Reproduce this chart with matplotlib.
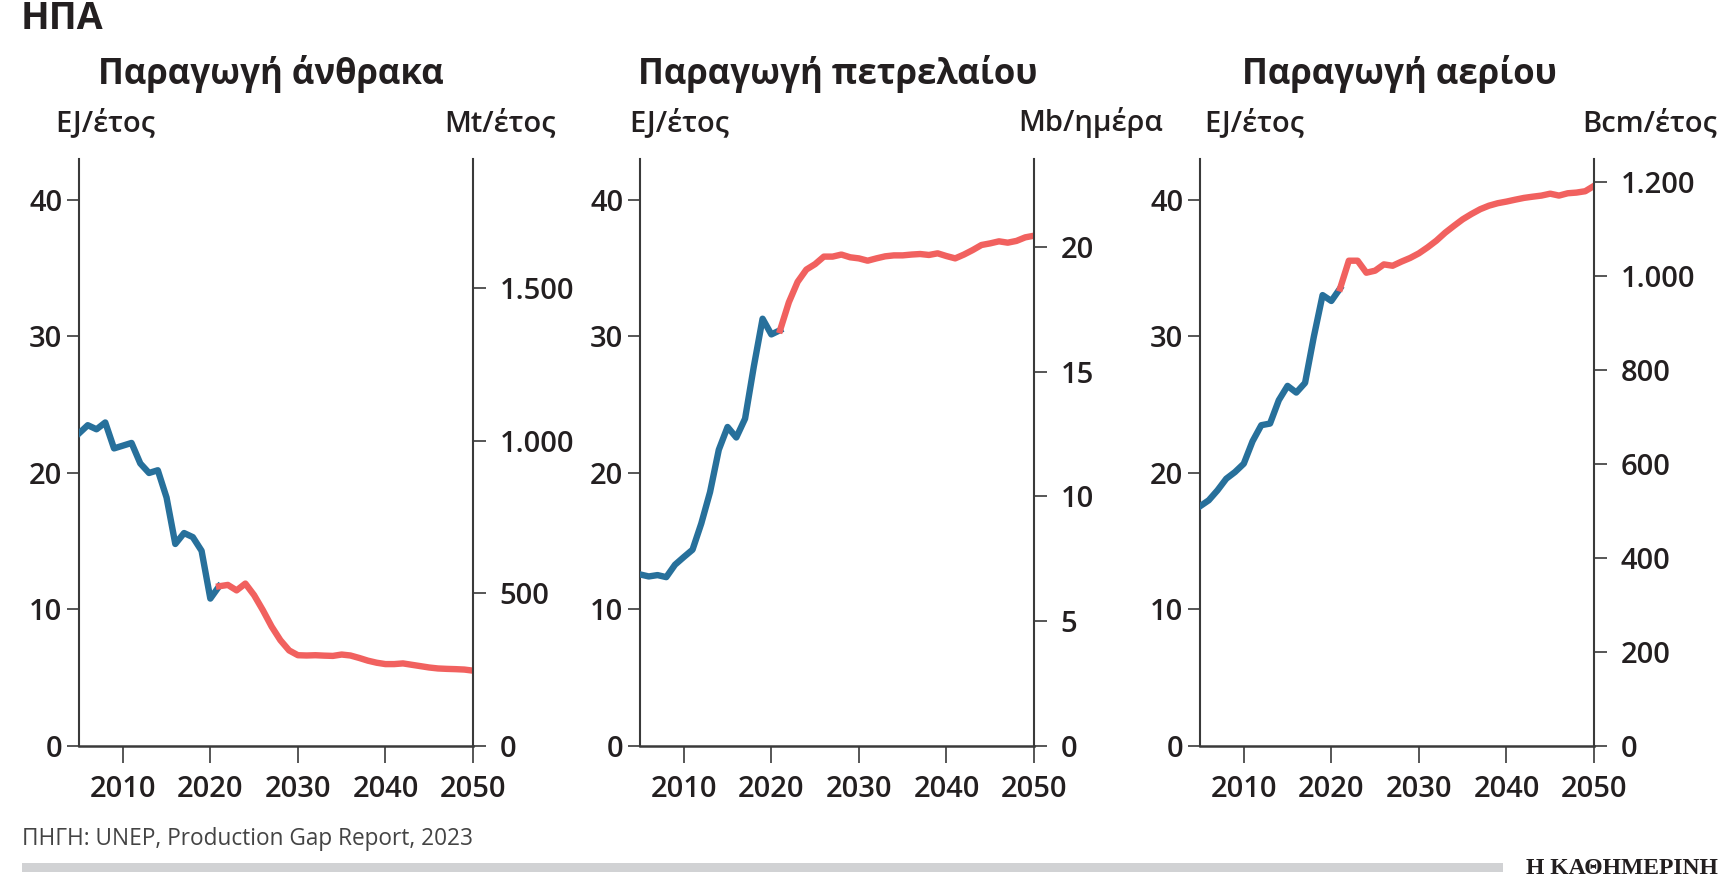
import matplotlib.pyplot as plt
from matplotlib.ticker import FuncFormatter

W, H = 1720, 888

years_hist = list(range(2005, 2022))
years_proj = list(range(2021, 2051))

coal_hist = [22.9, 23.5, 23.2, 23.7, 21.8, 22.0, 22.2, 20.7, 20.0, 20.2, 18.2,
             14.8, 15.6, 15.3, 14.3, 10.8, 11.7]
coal_proj = [11.7, 11.8, 11.4, 11.9, 11.05, 9.95, 8.75, 7.75, 7.0, 6.65,
             6.63, 6.65, 6.62, 6.6, 6.7, 6.63, 6.45, 6.25, 6.1, 6.0,
             6.0, 6.05, 5.95, 5.85, 5.75, 5.68, 5.65, 5.63, 5.6, 5.52]

oil_hist = [12.57, 12.42, 12.52, 12.37, 13.28, 13.84, 14.38, 16.3, 18.6, 21.7,
            23.37, 22.6, 23.98, 27.8, 31.3, 30.15, 30.46]
oil_proj = [30.46, 32.5, 34.0, 34.9, 35.3, 35.85, 35.85, 36.0, 35.8, 35.72,
            35.55, 35.72, 35.87, 35.94, 35.94, 36.0, 36.04, 35.97, 36.09, 35.89,
            35.72, 36.0, 36.33, 36.7, 36.82, 36.97, 36.87, 37.0, 37.26, 37.38]

gas_hist = [17.56, 18.0, 18.73, 19.58, 20.07, 20.68, 22.32, 23.5, 23.62, 25.33,
            26.38, 25.89, 26.6, 29.98, 33.03, 32.6, 33.52]
gas_proj = [33.52, 35.55, 35.55, 34.67, 34.82, 35.28, 35.18, 35.48, 35.75, 36.09,
            36.53, 37.02, 37.6, 38.1, 38.58, 38.97, 39.32, 39.58, 39.76, 39.88,
            40.02, 40.15, 40.24, 40.32, 40.46, 40.32, 40.49, 40.54, 40.64, 41.03]

titles = ["Παραγωγή άνθρακα", "Παραγωγή πετρελαίου", "Παραγωγή αερίου"]
left_units = ["EJ/έτος", "EJ/έτος", "EJ/έτος"]
right_units = ["Mt/έτος", "Mb/ημέρα", "Bcm/έτος"]
left_ticks = [0, 10, 20, 30, 40]
right_ticks = [[0, 500, 1000, 1500], [0, 5, 10, 15, 20], [0, 200, 400, 600, 800, 1000, 1200]]
# μονάδες δεξιού άξονα ανά 1 EJ
right_factor = [44.7, 0.5468, 29.06]
year_ticks = [2010, 2020, 2030, 2040, 2050]

BLUE = "#27709b"
RED = "#f1615f"
TXT = "#231f20"
AX = "#3a3a3a"

plt.rcParams['font.family'] = ['Open Sans', 'DejaVu Sans']

fig = plt.figure(figsize=(W / 100, H / 100), dpi=100)


def fx(x):
    return x / W


def fy(y):
    return 1 - y / H


def fmt(v, _):
    return f"{int(round(v)):,}".replace(",", ".")


panels_px = [(79, 473), (640, 1034), (1200, 1594)]
title_x = [98, 638, 1242]
left_unit_x = [55, 629, 1204]
right_unit_x = [556, 1163, 1717]
series = [(coal_hist, coal_proj), (oil_hist, oil_proj), (gas_hist, gas_proj)]
y_top, y_bot = 159, 746
ymax = 43.0

for i in range(3):
    x0, x1 = panels_px[i]
    ax = fig.add_axes([fx(x0), fy(y_bot), (x1 - x0) / W, (y_bot - y_top) / H])
    hist, proj = series[i]
    ax.plot(years_hist, hist, color=BLUE, lw=4.6, solid_joinstyle='round', zorder=3)
    ax.plot(years_proj, proj, color=RED, lw=4.6, solid_joinstyle='round', zorder=3)
    ax.set_xlim(2005, 2050)
    ax.set_ylim(0, ymax)
    ax.set_xticks(year_ticks)
    ax.set_yticks(left_ticks)
    ax.spines['top'].set_visible(False)
    ax.spines['right'].set_visible(False)
    ax.spines['left'].set_color(AX)
    ax.spines['left'].set_linewidth(1.5)
    ax.spines['bottom'].set_color(AX)
    ax.spines['bottom'].set_linewidth(1.8)
    ax.tick_params(axis='y', length=9, width=1.2, color=AX, pad=3,
                   labelsize=21, labelcolor=TXT)
    ax.tick_params(axis='x', length=12, width=1.2, color=AX, pad=9,
                   labelsize=21, labelcolor=TXT)
    for lab in ax.get_xticklabels() + ax.get_yticklabels():
        lab.set_fontweight('semibold')

    ax2 = ax.twinx()
    ax2.set_ylim(0, ymax * right_factor[i])
    ax2.set_yticks(right_ticks[i])
    ax2.yaxis.set_major_formatter(FuncFormatter(fmt))
    for s in ['top', 'left', 'bottom']:
        ax2.spines[s].set_visible(False)
    ax2.spines['right'].set_color(AX)
    ax2.spines['right'].set_linewidth(1.5)
    ax2.tick_params(axis='y', length=9, width=1.2, color=AX, pad=10,
                    labelsize=21, labelcolor=TXT)
    for lab in ax2.get_yticklabels():
        lab.set_fontweight('semibold')

    fig.text(fx(title_x[i]), fy(84), titles[i], fontsize=25, fontweight='bold',
             color=TXT, ha='left', va='baseline')
    fig.text(fx(left_unit_x[i]), fy(131), left_units[i], fontsize=21,
             fontweight='semibold', color=TXT, ha='left', va='baseline')
    fig.text(fx(right_unit_x[i]), fy(131), right_units[i], fontsize=21,
             fontweight='semibold', color=TXT, ha='right', va='baseline')

fig.text(fx(21), fy(29), "ΗΠΑ", fontsize=27, fontweight='bold', color=TXT,
         ha='left', va='baseline')
fig.text(fx(22), fy(845), "ΠΗΓΗ: UNEP, Production Gap Report, 2023", fontsize=16.3,
         color="#444444", ha='left', va='baseline')

bar = plt.Rectangle((fx(22), fy(872)), fx(1503) - fx(22), 9 / H,
                    transform=fig.transFigure, color="#d1d2d4", lw=0)
fig.patches.append(bar)
fig.text(fx(1718), fy(874), "Η ΚΑΘΗΜΕΡΙΝΗ", fontsize=17, fontweight='bold',
         family=['Liberation Serif', 'DejaVu Serif'], color=TXT, ha='right', va='baseline')

fig.savefig("out.png", dpi=100)
